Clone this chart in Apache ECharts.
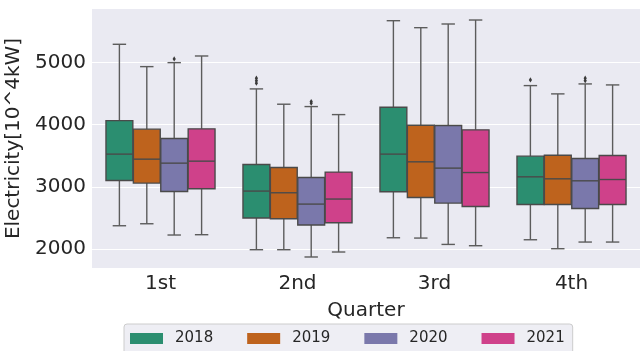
<!DOCTYPE html>
<html>
<head>
<meta charset="utf-8">
<script src="https://cdn.jsdelivr.net/npm/echarts@6/dist/echarts.min.js"></script>
<style>
  html, body { margin: 0; padding: 0; background: #ffffff; }
  #chart { width: 640px; height: 351px; }
</style>
</head>
<body>
<div id="chart"></div>
<script>
// Quarterly electricity consumption, one box per year inside each quarter
const quarters = ['1st', '2nd', '3rd', '4th'];
const years = ['2018', '2019', '2020', '2021'];

// [lower whisker, Q1, median, Q3, upper whisker] for each quarter
const box2018 = [[2374, 3101, 3525, 4064, 5290], [1989, 2498, 2931, 3358, 4573], [2181, 2920, 3525, 4279, 5669], [2149, 2716, 3160, 3492, 4626]];
const box2019 = [[2406, 3059, 3444, 3926, 4931], [1989, 2486, 2904, 3310, 4327], [2176, 2828, 3401, 3990, 5557], [2005, 2716, 3128, 3508, 4493]];
const box2020 = [[2225, 2925, 3380, 3775, 4995], [1872, 2385, 2722, 3149, 4289], [2074, 2738, 3300, 3984, 5616], [2112, 2652, 3096, 3454, 4653]];
const box2021 = [[2230, 2968, 3412, 3931, 5102], [1952, 2422, 2803, 3236, 4160], [2053, 2684, 3229, 3915, 5680], [2112, 2716, 3117, 3503, 4637]];

// Outliers as [quarter index, value]
const out2018 = [[1, 4745], [1, 4705], [1, 4665], [3, 4717]];
const out2019 = [];
const out2020 = [[0, 5054], [1, 4369], [1, 4343], [3, 4745], [3, 4705]];
const out2021 = [];

const boxes = [box2018, box2019, box2020, box2021];
const outliers = [out2018, out2019, out2020, out2021];
const colors = ['#2b8e70', '#be631d', '#7a78ab', '#cf418a'];
const lineColor = '#4a4a4a';
const whiskerColor = '#5c5c5c';
const textColor = '#262626';
const fontFamily = '"DejaVu Sans", sans-serif';

// Position of box s inside a category band (hue dodge)
function slotX(api, cat, s) {
  const c = api.coord([cat, 0])[0];
  const band = api.size([1, 0])[0];
  const groupW = band * 0.8;
  const slot = groupW / years.length;
  return { x: c - groupW / 2 + slot * (s + 0.5), w: slot * 0.98 };
}

function boxRenderer(s) {
  return function (params, api) {
    const cat = api.value(0);
    const p = slotX(api, cat, s);
    const y = [1, 2, 3, 4, 5].map(function (d) { return api.coord([cat, api.value(d)])[1]; });
    const half = p.w / 2;
    const capHalf = p.w / 4;
    const whisker = { stroke: whiskerColor, lineWidth: 1.4, fill: null };
    const median = { stroke: lineColor, lineWidth: 1.4, fill: null };
    return {
      type: 'group',
      children: [
        { type: 'line', shape: { x1: p.x, y1: y[0], x2: p.x, y2: y[1] }, style: whisker },
        { type: 'line', shape: { x1: p.x, y1: y[3], x2: p.x, y2: y[4] }, style: whisker },
        { type: 'line', shape: { x1: p.x - capHalf, y1: y[0], x2: p.x + capHalf, y2: y[0] }, style: whisker },
        { type: 'line', shape: { x1: p.x - capHalf, y1: y[4], x2: p.x + capHalf, y2: y[4] }, style: whisker },
        { type: 'rect', shape: { x: p.x - half, y: y[3], width: p.w, height: y[1] - y[3] },
          style: { fill: colors[s], stroke: lineColor, lineWidth: 1.4 } },
        { type: 'line', shape: { x1: p.x - half, y1: y[2], x2: p.x + half, y2: y[2] }, style: median }
      ]
    };
  };
}

function outlierRenderer(s) {
  return function (params, api) {
    const cat = api.value(0);
    const p = slotX(api, cat, s);
    const yy = api.coord([cat, api.value(1)])[1];
    return {
      type: 'polygon',
      shape: { points: [[p.x, yy - 2.6], [p.x + 1.6, yy], [p.x, yy + 2.6], [p.x - 1.6, yy]] },
      style: { fill: '#3a3a3a', stroke: null }
    };
  };
}

const series = [];
years.forEach(function (yr, s) {
  series.push({
    name: yr,
    type: 'custom',
    renderItem: boxRenderer(s),
    itemStyle: { color: colors[s] },
    encode: { x: 0, y: [1, 2, 3, 4, 5] },
    data: boxes[s].map(function (b, i) { return [i].concat(b); }),
    z: 2
  });
  series.push({
    name: yr,
    type: 'custom',
    renderItem: outlierRenderer(s),
    itemStyle: { color: colors[s] },
    encode: { x: 0, y: 1 },
    data: outliers[s],
    z: 3
  });
});

const chart = echarts.init(document.getElementById('chart'), null, { renderer: 'canvas' });
chart.setOption({
  animation: false,
  backgroundColor: '#ffffff',
  textStyle: { fontFamily: fontFamily },
  grid: {
    left: 92, right: 0, top: 9, bottom: 83,
    containLabel: false,
    outerBoundsMode: 'none',
    show: true, backgroundColor: '#EAEAF2', borderWidth: 0
  },
  xAxis: {
    type: 'category',
    data: quarters,
    boundaryGap: true,
    name: 'Quarter',
    nameLocation: 'middle',
    nameGap: 33,
    nameTextStyle: { fontSize: 20, color: textColor, fontFamily: fontFamily },
    axisLine: { show: false },
    axisTick: { show: false },
    splitLine: { show: false },
    axisLabel: { fontSize: 20, color: textColor, margin: 6, fontFamily: fontFamily }
  },
  yAxis: {
    type: 'value',
    min: 1695,
    max: 5857,
    name: 'Electricity[10^4kW]',
    nameLocation: 'middle',
    nameGap: 61,
    nameRotate: 90,
    nameTextStyle: { fontSize: 20, color: textColor, fontFamily: fontFamily },
    axisLine: { show: false },
    axisTick: { show: false },
    axisLabel: {
      fontSize: 20, color: textColor, margin: 6, showMinLabel: false, showMaxLabel: false,
      fontFamily: fontFamily,
      formatter: function (v) { return String(v); }
    },
    splitLine: { show: true, showMinLine: false, showMaxLine: false, lineStyle: { color: '#ffffff', width: 1 } }
  },
  legend: {
    data: years,
    bottom: -4,
    left: 124,
    orient: 'horizontal',
    icon: 'rect',
    itemWidth: 33,
    itemHeight: 11,
    itemGap: 34,
    padding: [7, 8, 9, 6],
    backgroundColor: '#EEEEF4',
    borderColor: '#cccccc',
    borderWidth: 1,
    borderRadius: 3,
    textStyle: { fontSize: 15, color: textColor, padding: [0, 0, 0, 7], fontFamily: fontFamily }
  },
  series: series
});
</script>
</body>
</html>
